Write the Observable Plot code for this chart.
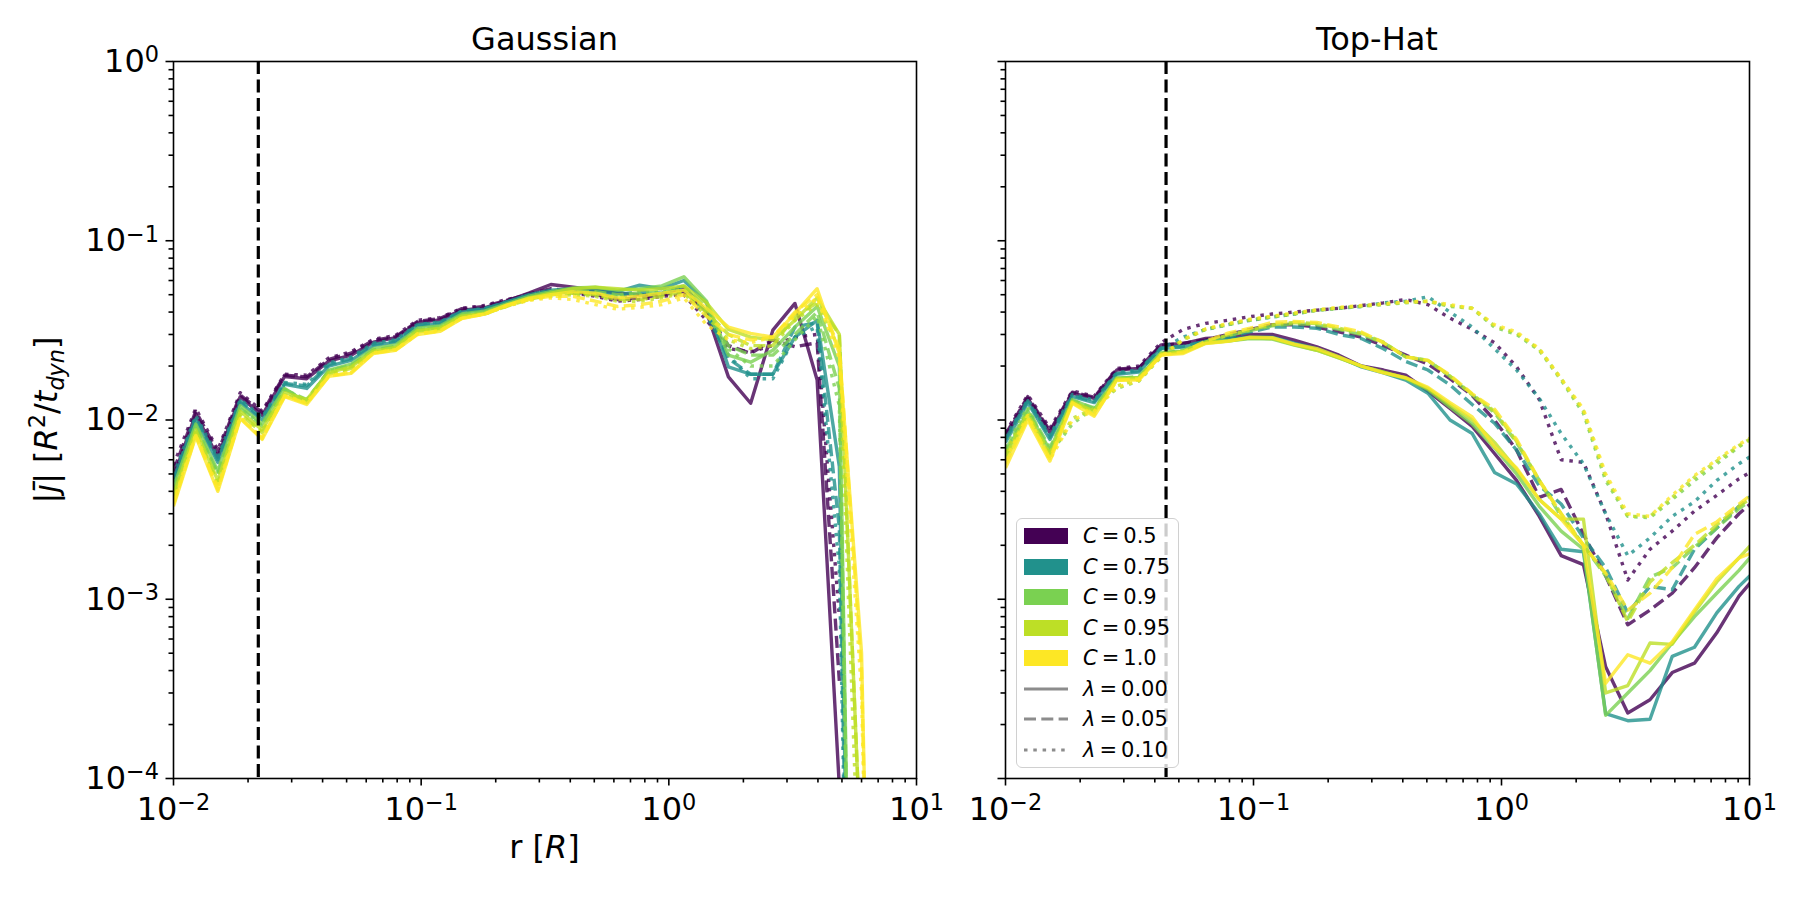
<!DOCTYPE html>
<html><head><meta charset="utf-8">
<script src="https://cdn.jsdelivr.net/npm/d3@7"></script>
<script src="https://cdn.jsdelivr.net/npm/@observablehq/plot@0.6"></script>
<style>
body{margin:0;background:#fff;}
#fig{position:relative;width:1800px;height:900px;font-family:"DejaVu Sans",sans-serif;color:#000;overflow:hidden;}
#fig svg{overflow:visible;}
.panel{position:absolute;top:0;}
.txt{position:absolute;font-size:32px;line-height:32px;height:32px;white-space:nowrap;transform:translateX(-50%);}
.ylab{position:absolute;font-size:32px;line-height:32px;white-space:nowrap;transform:translate(-50%,-50%) rotate(-90deg);}
.ylab sup,.ylab sub{font-size:0.7em;line-height:0;}
#legend{position:absolute;left:1016px;top:518px;width:161px;height:248px;border:1.5px solid #d0d0d0;border-radius:6px;background:rgba(255,255,255,0.8);}
.row{position:absolute;left:0;height:30px;width:160px;}
.row .sw{position:absolute;left:7px;top:7px;width:44px;height:16px;}
.row .lab{position:absolute;left:66px;top:0;font-size:21px;line-height:30px;white-space:nowrap;}
.row .eq{margin:0 4px;}
</style></head>
<body><div id="fig"></div>
<script>
// ---------------- data ----------------
const r = [0.0100, 0.0123, 0.0151, 0.0186, 0.0228, 0.0281, 0.0345, 0.0424, 0.0521, 0.0641, 0.0788, 0.0968, 0.119, 0.146, 0.180, 0.221, 0.272, 0.334, 0.411, 0.505, 0.620, 0.762, 0.937, 1.15, 1.42, 1.74, 2.14, 2.63, 3.23, 3.97, 4.88, 6.00, 7.38, 9.07, 11.1];
const cValues = [0.5, 0.75, 0.9, 0.95, 1.0];
const cLabels = ["0.5", "0.75", "0.9", "0.95", "1.0"];
const cColors = ["#440154", "#21918c", "#7ad151", "#bddf26", "#fde725"];
const lambdaLabels = ["0.00", "0.05", "0.10"];
const lambdaDash = [null, "12,5.3", "3.5,5.8"];
const panelTitles = ["Gaussian", "Top-Hat"];
const rCutGaussian = 0.0220;
const rCutTopHat = 0.0444;
const xTicks = [0.01, 0.1, 1, 10];
const xTickExponents = ["−2", "−1", "0", "1"];
const yTicks = [1e-4, 1e-3, 1e-2, 1e-1, 1];
const yTickExponents = ["−4", "−3", "−2", "−1", "0"];
const xMinor = [0.02,0.03,0.04,0.05,0.06,0.07,0.08,0.09,0.2,0.3,0.4,0.5,0.6,0.7,0.8,0.9,2,3,4,5,6,7,8,9];
const yMinor = [2e-4,3e-4,4e-4,5e-4,6e-4,7e-4,8e-4,9e-4,2e-3,3e-3,4e-3,5e-3,6e-3,7e-3,8e-3,9e-3,0.02,0.03,0.04,0.05,0.06,0.07,0.08,0.09,0.2,0.3,0.4,0.5,0.6,0.7,0.8,0.9];

// Gaussian panel: |j| per C (0.5 .. 1.0) and lambda (0.00, 0.05, 0.10)
const g_c050_l000 = [4.8e-3, 0.0108, 6.2e-3, 0.0135, 0.0106, 0.0175, 0.0170, 0.0213, 0.0230, 0.0272, 0.0288, 0.0350, 0.0362, 0.0410, 0.0422, 0.0460, 0.0510, 0.0570, 0.0550, 0.0530, 0.0510, 0.0500, 0.0500, 0.0550, 0.0400, 0.0174, 0.0124, 0.0317, 0.0447, 0.0167, 9e-5];
const g_c050_l005 = [5.2e-3, 0.0112, 6.6e-3, 0.0138, 0.0110, 0.0178, 0.0174, 0.0218, 0.0236, 0.0278, 0.0292, 0.0355, 0.0368, 0.0418, 0.0430, 0.0465, 0.0505, 0.0540, 0.0520, 0.0500, 0.0470, 0.0480, 0.0500, 0.0520, 0.0400, 0.0260, 0.0235, 0.0280, 0.0256, 0.0270, 3.5e-4];
const g_c050_l010 = [5.6e-3, 0.0116, 6.8e-3, 0.0142, 0.0112, 0.0180, 0.0178, 0.0222, 0.0240, 0.0282, 0.0296, 0.0360, 0.0372, 0.0420, 0.0435, 0.0470, 0.0500, 0.0530, 0.0510, 0.0490, 0.0460, 0.0470, 0.0490, 0.0500, 0.0360, 0.0250, 0.0240, 0.0260, 0.0290, 0.0300, 8e-4];
const g_c075_l000 = [4.5e-3, 0.0100, 5.8e-3, 0.0125, 0.0100, 0.0158, 0.0150, 0.0200, 0.0215, 0.0260, 0.0272, 0.0335, 0.0345, 0.0400, 0.0415, 0.0455, 0.0500, 0.0530, 0.0540, 0.0530, 0.0520, 0.0565, 0.0540, 0.0600, 0.0450, 0.0198, 0.0180, 0.0180, 0.0290, 0.0360, 5.5e-3, 1e-9];
const g_c075_l005 = [4.7e-3, 0.0103, 6.0e-3, 0.0128, 0.0102, 0.0160, 0.0155, 0.0204, 0.0220, 0.0264, 0.0276, 0.0340, 0.0350, 0.0405, 0.0418, 0.0455, 0.0495, 0.0520, 0.0520, 0.0510, 0.0500, 0.0520, 0.0510, 0.0560, 0.0400, 0.0220, 0.0180, 0.0180, 0.0330, 0.0350, 2.5e-3, 1e-9];
const g_c075_l010 = [4.9e-3, 0.0106, 6.2e-3, 0.0130, 0.0104, 0.0162, 0.0158, 0.0208, 0.0224, 0.0268, 0.0280, 0.0342, 0.0352, 0.0405, 0.0418, 0.0455, 0.0490, 0.0510, 0.0510, 0.0500, 0.0490, 0.0500, 0.0500, 0.0540, 0.0380, 0.0230, 0.0170, 0.0170, 0.0290, 0.0330, 1.5e-3, 1e-9];
const g_c090_l000 = [4.2e-3, 9.5e-3, 5.2e-3, 0.0120, 9.5e-3, 0.0150, 0.0125, 0.0190, 0.0205, 0.0250, 0.0262, 0.0325, 0.0335, 0.0390, 0.0405, 0.0445, 0.0490, 0.0520, 0.0545, 0.0550, 0.0530, 0.0540, 0.0560, 0.0630, 0.0460, 0.0230, 0.0210, 0.0245, 0.0330, 0.0430, 0.0200, 1e-9];
const g_c090_l005 = [4.0e-3, 9.2e-3, 5.0e-3, 0.0116, 9.2e-3, 0.0148, 0.0130, 0.0188, 0.0202, 0.0246, 0.0258, 0.0320, 0.0330, 0.0385, 0.0400, 0.0440, 0.0480, 0.0510, 0.0520, 0.0520, 0.0500, 0.0510, 0.0520, 0.0560, 0.0420, 0.0260, 0.0230, 0.0230, 0.0300, 0.0400, 0.0150, 1e-9];
const g_c090_l010 = [4.1e-3, 9.3e-3, 5.0e-3, 0.0117, 9.3e-3, 0.0148, 0.0128, 0.0188, 0.0200, 0.0244, 0.0255, 0.0318, 0.0328, 0.0382, 0.0398, 0.0438, 0.0475, 0.0500, 0.0510, 0.0505, 0.0490, 0.0500, 0.0505, 0.0540, 0.0400, 0.0250, 0.0200, 0.0200, 0.0280, 0.0380, 0.0120, 1e-9];
const g_c095_l000 = [3.8e-3, 8.8e-3, 4.6e-3, 0.0112, 8.8e-3, 0.0142, 0.0130, 0.0184, 0.0198, 0.0242, 0.0254, 0.0315, 0.0325, 0.0380, 0.0395, 0.0435, 0.0480, 0.0510, 0.0540, 0.0550, 0.0540, 0.0530, 0.0540, 0.0560, 0.0450, 0.0320, 0.0290, 0.0280, 0.0360, 0.0480, 0.0300, 3e-5];
const g_c095_l005 = [3.6e-3, 8.5e-3, 4.4e-3, 0.0108, 8.5e-3, 0.0138, 0.0125, 0.0180, 0.0194, 0.0238, 0.0250, 0.0310, 0.0320, 0.0375, 0.0390, 0.0430, 0.0470, 0.0500, 0.0510, 0.0500, 0.0470, 0.0470, 0.0490, 0.0520, 0.0400, 0.0300, 0.0260, 0.0260, 0.0380, 0.0450, 0.0300, 3e-5];
const g_c095_l010 = [3.7e-3, 8.6e-3, 4.4e-3, 0.0108, 8.6e-3, 0.0138, 0.0126, 0.0180, 0.0194, 0.0238, 0.0250, 0.0310, 0.0320, 0.0375, 0.0390, 0.0430, 0.0470, 0.0490, 0.0500, 0.0490, 0.0460, 0.0460, 0.0480, 0.0510, 0.0380, 0.0280, 0.0250, 0.0260, 0.0360, 0.0440, 0.0250, 1e-5];
const g_c100_l000 = [3.3e-3, 8.1e-3, 4.0e-3, 0.0102, 7.8e-3, 0.0135, 0.0122, 0.0175, 0.0182, 0.0235, 0.0245, 0.0300, 0.0312, 0.0368, 0.0390, 0.0437, 0.0477, 0.0500, 0.0520, 0.0510, 0.0480, 0.0490, 0.0510, 0.0530, 0.0420, 0.0330, 0.0304, 0.0290, 0.0393, 0.0540, 0.0235, 5e-4, 1e-9];
const g_c100_l005 = [3.4e-3, 8.2e-3, 4.1e-3, 0.0103, 7.9e-3, 0.0136, 0.0124, 0.0176, 0.0184, 0.0236, 0.0246, 0.0302, 0.0314, 0.0370, 0.0390, 0.0435, 0.0470, 0.0490, 0.0490, 0.0460, 0.0430, 0.0440, 0.0460, 0.0500, 0.0380, 0.0300, 0.0280, 0.0290, 0.0400, 0.0500, 0.0250, 4e-4, 1e-9];
const g_c100_l010 = [3.5e-3, 8.3e-3, 4.2e-3, 0.0104, 8.0e-3, 0.0137, 0.0125, 0.0177, 0.0185, 0.0237, 0.0247, 0.0303, 0.0315, 0.0370, 0.0390, 0.0432, 0.0465, 0.0480, 0.0470, 0.0440, 0.0415, 0.0425, 0.0440, 0.0480, 0.0340, 0.0280, 0.0270, 0.0290, 0.0380, 0.0480, 0.0220, 3e-4, 1e-9];

// Top-Hat panel
const t_c050_l000 = [8.1e-3, 0.0132, 8.5e-3, 0.0141, 0.0132, 0.0190, 0.0194, 0.0262, 0.0267, 0.0285, 0.0290, 0.0300, 0.0300, 0.0279, 0.0256, 0.0230, 0.0200, 0.0190, 0.0178, 0.0145, 0.0116, 9.2e-3, 6.5e-3, 4.6e-3, 2.9e-3, 1.75e-3, 1.56e-3, 4.2e-4, 2.32e-4, 2.75e-4, 3.9e-4, 4.4e-4, 6.5e-4, 1.04e-3, 1.45e-3];
const t_c050_l005 = [8.3e-3, 0.0135, 8.7e-3, 0.0143, 0.0134, 0.0192, 0.0196, 0.0260, 0.0268, 0.0280, 0.0300, 0.0320, 0.0340, 0.0340, 0.0330, 0.0310, 0.0290, 0.0260, 0.0230, 0.0205, 0.0170, 0.0137, 0.0100, 6.8e-3, 3.7e-3, 4.1e-3, 2.3e-3, 1.35e-3, 7.2e-4, 8.7e-4, 1.08e-3, 1.5e-3, 2.2e-3, 3.0e-3, 3.8e-3];
const t_c050_l010 = [8.5e-3, 0.0138, 9.0e-3, 0.0145, 0.0136, 0.0194, 0.0200, 0.0270, 0.0320, 0.0346, 0.0360, 0.0377, 0.0390, 0.0400, 0.0410, 0.0420, 0.0435, 0.0450, 0.0470, 0.0440, 0.0370, 0.0320, 0.0270, 0.0198, 0.0130, 6.0e-3, 5.8e-3, 3.0e-3, 1.28e-3, 1.9e-3, 2.4e-3, 3.1e-3, 3.8e-3, 4.7e-3, 5.5e-3];
const t_c075_l000 = [7.5e-3, 0.0125, 7.8e-3, 0.0135, 0.0125, 0.0180, 0.0185, 0.0250, 0.0255, 0.0275, 0.0282, 0.0290, 0.0290, 0.0268, 0.0250, 0.0225, 0.0198, 0.0183, 0.0167, 0.0141, 0.0100, 8.4e-3, 5.1e-3, 4.4e-3, 3.0e-3, 1.9e-3, 1.84e-3, 2.3e-4, 2.1e-4, 2.14e-4, 4.8e-4, 5.4e-4, 8.4e-4, 1.18e-3, 1.55e-3];
const t_c075_l005 = [7.8e-3, 0.0128, 8.0e-3, 0.0137, 0.0127, 0.0182, 0.0188, 0.0252, 0.0258, 0.0275, 0.0290, 0.0310, 0.0330, 0.0330, 0.0325, 0.0300, 0.0285, 0.0250, 0.0212, 0.0190, 0.0157, 0.0122, 9.6e-3, 6.8e-3, 4.3e-3, 3.4e-3, 2.2e-3, 1.5e-3, 8.4e-4, 1.18e-3, 1.13e-3, 1.9e-3, 2.5e-3, 3.3e-3, 4.2e-3];
const t_c075_l010 = [8.0e-3, 0.0130, 8.2e-3, 0.0139, 0.0129, 0.0184, 0.0190, 0.0250, 0.0290, 0.0320, 0.0340, 0.0360, 0.0375, 0.0390, 0.0410, 0.0420, 0.0430, 0.0450, 0.0460, 0.0487, 0.0400, 0.0330, 0.0250, 0.0190, 0.0132, 8.4e-3, 5.7e-3, 3.0e-3, 1.75e-3, 2.2e-3, 2.9e-3, 3.5e-3, 4.6e-3, 5.7e-3, 6.8e-3];
const t_c090_l000 = [6.5e-3, 0.0112, 6.8e-3, 0.0130, 0.0115, 0.0172, 0.0172, 0.0238, 0.0242, 0.0270, 0.0276, 0.0285, 0.0283, 0.0262, 0.0245, 0.0222, 0.0200, 0.0185, 0.0170, 0.0148, 0.0118, 9.5e-3, 7.0e-3, 5.0e-3, 3.3e-3, 2.4e-3, 1.9e-3, 2.25e-4, 3.0e-4, 4.0e-4, 5.7e-4, 8.0e-4, 1.08e-3, 1.45e-3, 2.0e-3];
const t_c090_l005 = [6.8e-3, 0.0115, 7.0e-3, 0.0128, 0.0117, 0.0170, 0.0175, 0.0236, 0.0245, 0.0272, 0.0295, 0.0315, 0.0335, 0.0345, 0.0340, 0.0320, 0.0300, 0.0270, 0.0225, 0.0215, 0.0175, 0.0138, 0.0110, 7.5e-3, 4.6e-3, 2.9e-3, 2.0e-3, 1.35e-3, 7.8e-4, 1.33e-3, 1.5e-3, 1.95e-3, 2.5e-3, 3.2e-3, 3.9e-3];
const t_c090_l010 = [7.0e-3, 0.0118, 6.5e-3, 9.5e-3, 0.0118, 0.0150, 0.0165, 0.0225, 0.0280, 0.0320, 0.0340, 0.0360, 0.0375, 0.0390, 0.0410, 0.0420, 0.0430, 0.0440, 0.0450, 0.0460, 0.0430, 0.0420, 0.0330, 0.0300, 0.0245, 0.0167, 0.0109, 4.6e-3, 2.9e-3, 2.85e-3, 3.6e-3, 4.6e-3, 5.7e-3, 7.1e-3, 8.4e-3];
const t_c095_l000 = [6.0e-3, 0.0105, 6.3e-3, 0.0127, 0.0110, 0.0170, 0.0170, 0.0234, 0.0238, 0.0268, 0.0276, 0.0287, 0.0285, 0.0263, 0.0245, 0.0222, 0.0200, 0.0185, 0.0172, 0.0150, 0.0122, 0.0100, 7.5e-3, 5.3e-3, 3.6e-3, 2.8e-3, 2.8e-3, 3.0e-4, 3.3e-4, 5.7e-4, 5.6e-4, 8.5e-4, 1.25e-3, 1.7e-3, 2.3e-3];
const t_c095_l005 = [6.3e-3, 0.0108, 6.5e-3, 0.0126, 0.0112, 0.0168, 0.0172, 0.0232, 0.0242, 0.0272, 0.0298, 0.0318, 0.0340, 0.0350, 0.0345, 0.0325, 0.0305, 0.0272, 0.0225, 0.0215, 0.0176, 0.0139, 0.0112, 7.6e-3, 4.6e-3, 3.0e-3, 2.0e-3, 1.38e-3, 7.5e-4, 1.25e-3, 1.6e-3, 2.0e-3, 2.6e-3, 3.3e-3, 4.0e-3];
const t_c095_l010 = [6.6e-3, 0.0110, 6.3e-3, 0.0102, 0.0116, 0.0155, 0.0168, 0.0228, 0.0282, 0.0322, 0.0342, 0.0362, 0.0378, 0.0392, 0.0410, 0.0422, 0.0432, 0.0442, 0.0455, 0.0458, 0.0435, 0.0420, 0.0335, 0.0305, 0.0248, 0.0170, 0.0112, 4.8e-3, 2.9e-3, 2.9e-3, 3.7e-3, 4.8e-3, 5.9e-3, 7.2e-3, 8.5e-3];
const t_c100_l000 = [5.4e-3, 0.0100, 5.9e-3, 0.0124, 0.0105, 0.0167, 0.0167, 0.0230, 0.0235, 0.0267, 0.0275, 0.0290, 0.0288, 0.0265, 0.0250, 0.0225, 0.0200, 0.0183, 0.0172, 0.0152, 0.0125, 0.0104, 7.1e-3, 5.4e-3, 3.6e-3, 2.8e-3, 2.0e-3, 3.4e-4, 4.9e-4, 4.4e-4, 5.8e-4, 8.7e-4, 1.3e-3, 1.7e-3, 1.9e-3];
const t_c100_l005 = [5.7e-3, 0.0103, 6.1e-3, 0.0125, 0.0107, 0.0166, 0.0170, 0.0230, 0.0240, 0.0275, 0.0305, 0.0325, 0.0350, 0.0355, 0.0350, 0.0330, 0.0310, 0.0270, 0.0225, 0.0215, 0.0178, 0.0140, 0.0115, 7.8e-3, 4.6e-3, 3.0e-3, 2.0e-3, 1.4e-3, 8.7e-4, 1.08e-3, 1.5e-3, 2.3e-3, 2.7e-3, 3.4e-3, 4.2e-3];
const t_c100_l010 = [6.0e-3, 0.0106, 6.0e-3, 0.0100, 0.0112, 0.0152, 0.0166, 0.0226, 0.0280, 0.0322, 0.0345, 0.0365, 0.0380, 0.0395, 0.0412, 0.0425, 0.0435, 0.0445, 0.0455, 0.0460, 0.0440, 0.0420, 0.0340, 0.0310, 0.0250, 0.0170, 0.0115, 5.0e-3, 3.0e-3, 2.9e-3, 3.8e-3, 4.9e-3, 6.0e-3, 7.3e-3, 8.6e-3];

// ---------------- build ----------------
const gaussianSeries = [
  [g_c050_l000, g_c050_l005, g_c050_l010],
  [g_c075_l000, g_c075_l005, g_c075_l010],
  [g_c090_l000, g_c090_l005, g_c090_l010],
  [g_c095_l000, g_c095_l005, g_c095_l010],
  [g_c100_l000, g_c100_l005, g_c100_l010]
];
const topHatSeries = [
  [t_c050_l000, t_c050_l005, t_c050_l010],
  [t_c075_l000, t_c075_l005, t_c075_l010],
  [t_c090_l000, t_c090_l005, t_c090_l010],
  [t_c095_l000, t_c095_l005, t_c095_l010],
  [t_c100_l000, t_c100_l005, t_c100_l010]
];

const xExp = new Map(xTicks.map((t, i) => [t, xTickExponents[i]]));
const yExp = new Map(yTicks.map((t, i) => [t, yTickExponents[i]]));

const panels = [
  {title: panelTitles[0], rCut: rCutGaussian, series: gaussianSeries, left: 0, width: 930, marginLeft: 173, marginRight: 14, yLabels: true},
  {title: panelTitles[1], rCut: rCutTopHat, series: topHatSeries, left: 930, width: 870, marginLeft: 75, marginRight: 51, yLabels: false}
];

const fig = document.getElementById("fig");

// turn "10|−2" labels into base + superscript tspan
function superscriptLabels(svg) {
  svg.querySelectorAll("text").forEach(t => {
    const s = t.textContent;
    if (s.indexOf("|") < 0) return;
    const [base, exp] = s.split("|");
    t.textContent = base;
    const ts = document.createElementNS("http://www.w3.org/2000/svg", "tspan");
    ts.setAttribute("dy", "-0.42em");
    ts.setAttribute("font-size", "0.7em");
    ts.textContent = exp;
    t.appendChild(ts);
  });
}

panels.forEach(p => {
  const lineMarks = [];
  p.series.forEach((byLam, ci) => byLam.forEach((vals, li) => {
    const rows = vals.map((v, i) => ({r: r[i], j: v, C: cValues[ci]}));
    const opts = {x: "r", y: "j", stroke: "C", strokeWidth: 3.4, strokeOpacity: 0.8,
      strokeLinecap: "butt", strokeLinejoin: "round", clip: true, curve: "linear"};
    if (lambdaDash[li]) opts.strokeDasharray = lambdaDash[li];
    lineMarks.push(Plot.line(rows, opts));
  }));
  const svg = Plot.plot({
    width: p.width, height: 900,
    marginLeft: p.marginLeft, marginRight: p.marginRight, marginTop: 61, marginBottom: 122,
    x: {type: "log", domain: [0.01, 10]},
    y: {type: "log", domain: [1e-4, 1]},
    color: {type: "ordinal", domain: cValues, range: cColors},
    style: {fontFamily: "DejaVu Sans", fontSize: "32px", color: "black", background: "transparent", overflow: "visible"},
    marks: [
      Plot.axisX(xMinor, {tickSize: 4.5, strokeWidth: 1.6, tickFormat: () => "", label: null}),
      Plot.axisX(xTicks, {tickSize: 7.5, strokeWidth: 1.6, tickPadding: 11, fontSize: 32, tickFormat: d => "10|" + xExp.get(d), label: null}),
      Plot.axisY(yMinor, {tickSize: 4.5, strokeWidth: 1.6, tickFormat: () => "", label: null}),
      Plot.axisY(yTicks, {tickSize: 7.5, strokeWidth: 1.6, tickPadding: 7, fontSize: 32, tickFormat: d => p.yLabels ? "10|" + yExp.get(d) : "", label: null}),
      ...lineMarks,
      Plot.ruleX([p.rCut], {stroke: "black", strokeWidth: 3.2, strokeDasharray: "13,5.5"}),
      Plot.frame({stroke: "black", strokeWidth: 1.6})
    ]
  });
  superscriptLabels(svg);
  const wrap = document.createElement("div");
  wrap.className = "panel";
  wrap.style.left = p.left + "px";
  wrap.appendChild(svg);
  fig.appendChild(wrap);
  const cx = p.left + p.marginLeft + (p.width - p.marginLeft - p.marginRight) / 2;
  const t = document.createElement("div");
  t.className = "txt";
  t.style.left = cx + "px";
  t.style.top = "23px";
  t.textContent = p.title;
  fig.appendChild(t);
});

// axis labels
const xl = document.createElement("div");
xl.className = "txt";
xl.style.left = "544.5px";
xl.style.top = "831px";
xl.innerHTML = "r [<i>R</i>]";
fig.appendChild(xl);

const yl = document.createElement("div");
yl.className = "ylab";
yl.style.left = "46px";
yl.style.top = "420px";
yl.innerHTML = "|<i>j&#772;</i>| [<i>R</i><sup>2</sup>/<i>t</i><sub><i>dyn</i></sub>]";
fig.appendChild(yl);

// legend
const legend = document.createElement("div");
legend.id = "legend";
const rowTops = [2, 32.5, 63, 93.5, 124, 154.5, 185, 215.5];
cLabels.forEach((lab, i) => {
  const row = document.createElement("div");
  row.className = "row";
  row.style.top = rowTops[i] + "px";
  row.innerHTML = `<div class="sw" style="background:${cColors[i]}"></div><div class="lab"><i>C</i><span class="eq">=</span>${lab}</div>`;
  legend.appendChild(row);
});
lambdaLabels.forEach((lab, i) => {
  const row = document.createElement("div");
  row.className = "row";
  row.style.top = rowTops[5 + i] + "px";
  const dash = lambdaDash[i] ? `stroke-dasharray="${lambdaDash[i]}"` : "";
  row.innerHTML = `<svg style="position:absolute;left:7px;top:0" width="46" height="30"><line x1="0" x2="44" y1="15" y2="15" stroke="#808080" stroke-opacity="0.9" stroke-width="3.2" ${dash}/></svg><div class="lab"><i>λ</i><span class="eq">=</span>${lab}</div>`;
  legend.appendChild(row);
});
fig.appendChild(legend);
</script>
</body></html>
